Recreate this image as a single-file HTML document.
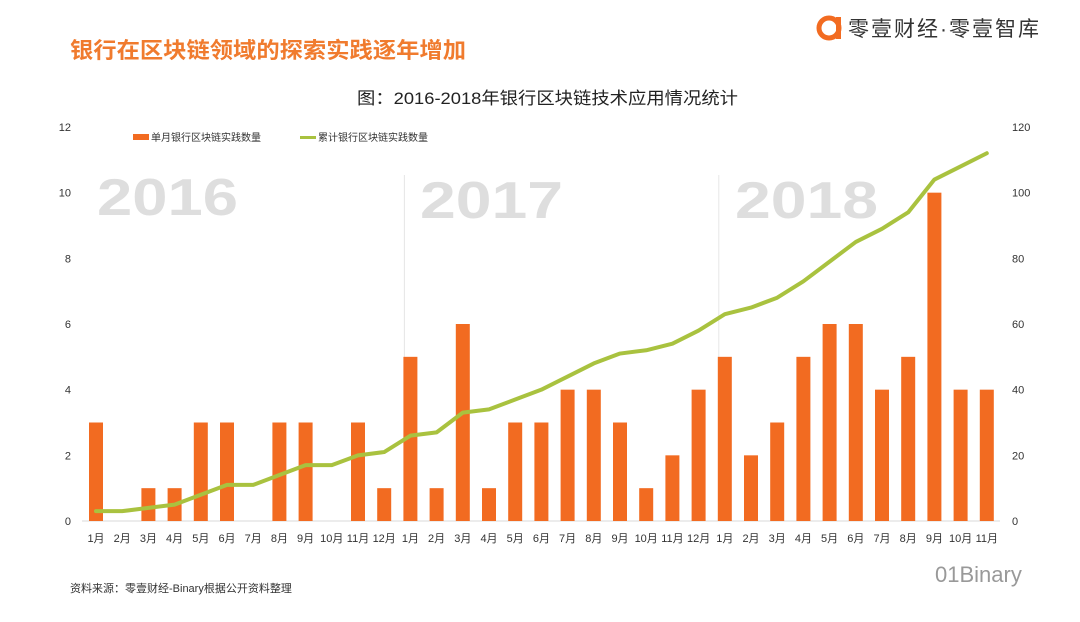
<!DOCTYPE html>
<html><head><meta charset="utf-8"><style>
body{margin:0;background:#fff;}
svg{display:block;font-family:"Liberation Sans","Noto Sans CJK SC",sans-serif;}
</style></head><body>
<svg id="c" width="1080" height="622" viewBox="0 0 1080 622">
<text x="70" y="58" font-size="22" font-weight="bold" fill="#f07b2e" textLength="396" lengthAdjust="spacingAndGlyphs">银行在区块链领域的探索实践逐年增加</text>
<g>
<circle cx="829" cy="28" r="10" fill="none" stroke="#f26b21" stroke-width="5"/>
<rect x="836" y="17" width="5" height="22" fill="#f26b21"/>
<text x="848" y="36" font-size="21" fill="#333" letter-spacing="2">零壹财经·零壹智库</text>
</g>
<text x="357" y="104" font-size="17" fill="#222" textLength="381" lengthAdjust="spacingAndGlyphs">图：2016-2018年银行区块链技术应用情况统计</text>
<g>
<rect x="133" y="134" width="16" height="6" fill="#f26b21"/>
<text x="151" y="141" font-size="10" fill="#333">单月银行区块链实践数量</text>
<rect x="300" y="136" width="16" height="3" fill="#a9c23f"/>
<text x="318" y="141" font-size="10" fill="#333">累计银行区块链实践数量</text>
</g>
<text x="97" y="215" font-size="52" font-weight="bold" fill="#dedede" textLength="141" lengthAdjust="spacingAndGlyphs">2016</text>
<text x="420" y="218" font-size="52" font-weight="bold" fill="#dedede" textLength="143" lengthAdjust="spacingAndGlyphs">2017</text>
<text x="735" y="218" font-size="52" font-weight="bold" fill="#dedede" textLength="143" lengthAdjust="spacingAndGlyphs">2018</text>
<text x="70" y="592" font-size="11" fill="#333">资料来源：零壹财经-Binary根据公开资料整理</text>
<text x="935" y="582" font-size="22" fill="#999">01Binary</text>
<g id="plot"></g>
</svg>
<script>
const categories=["1月","2月","3月","4月","5月","6月","7月","8月","9月","10月","11月","12月","1月","2月","3月","4月","5月","6月","7月","8月","9月","10月","11月","12月","1月","2月","3月","4月","5月","6月","7月","8月","9月","10月","11月"];
const monthly=[3,0,1,1,3,3,0,3,3,0,3,1,5,1,6,1,3,3,4,4,3,1,2,4,5,2,3,5,6,6,4,5,10,4,4];
const cumulative=[3,3,4,5,8,11,11,14,17,17,20,21,26,27,33,34,37,40,44,48,51,52,54,58,63,65,68,73,79,85,89,94,104,108,112];
const leftTicks=[0,2,4,6,8,10,12];
const rightTicks=[0,20,40,60,80,100,120];
const NS="http://www.w3.org/2000/svg";
const g=document.getElementById('plot');
const y0=521,yTop=127;
function x(i){return 96+i*26.2;}
function yL(v){return y0-(v/12)*(y0-yTop);}
function yR(v){return y0-(v/120)*(y0-yTop);}
function mk(t,a){const e=document.createElementNS(NS,t);for(const k in a)e.setAttribute(k,a[k]);g.appendChild(e);return e;}
leftTicks.forEach(v=>{const t=mk('text',{x:71,y:yL(v)+4,'font-size':11,'text-anchor':'end',fill:'#333'});t.textContent=v;

});
rightTicks.forEach(v=>{const t=mk('text',{x:1012,y:yR(v)+4,'font-size':11,fill:'#333'});t.textContent=v;

});
[12,24].forEach(i=>{const l=mk('line',{x1:x(i)-6,x2:x(i)-6,y1:175,y2:y0,stroke:'#e6e6e6','stroke-width':1});

});
const ax=mk('line',{x1:82,x2:1000,y1:y0,y2:y0,stroke:'#d9d9d9','stroke-width':1});


monthly.forEach((v,i)=>{
 if(v>0){const r=mk('rect',{x:x(i)-7,y:yL(v),width:14,height:y0-yL(v),fill:'#f26b21'});
 
 }
 const t=mk('text',{x:x(i),y:542,'font-size':11,'text-anchor':'middle',fill:'#333'});t.textContent=categories[i];
 
 
});
const p=mk('polyline',{points:cumulative.map((v,i)=>x(i)+','+yR(v)).join(' '),fill:'none',stroke:'#a9c23f','stroke-width':4,'stroke-linejoin':'round','stroke-linecap':'round'});


</script>
</body></html>
